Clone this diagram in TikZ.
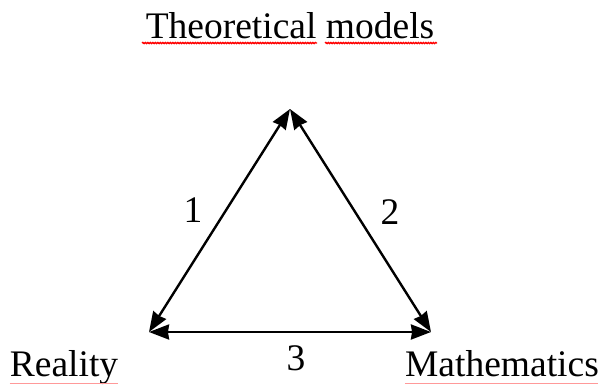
\documentclass[tikz,border=0pt]{standalone}
\usepackage{fontspec}
\setmainfont{Liberation Serif}
\usetikzlibrary{arrows.meta,decorations.pathmorphing}
\tikzset{
  lab/.style={inner sep=0pt, anchor=base, font=\fontsize{37.5}{45}\selectfont},
  side/.style={line width=2.4pt,
               arrows={Stealth[length=20pt,width=15pt,inset=1pt]-Stealth[length=20pt,width=15pt,inset=1pt]}},
  spell/.style={red, line width=1.3pt, decorate,
                decoration={snake, amplitude=0.6pt, segment length=2.5pt}}
}
\begin{document}
\begin{tikzpicture}[x=1pt,y=-1pt]
  \useasboundingbox (0,0) rectangle (602,384);
  % corners of the triangle
  \coordinate (top) at (290,109);
  \coordinate (left) at (149,332);
  \coordinate (right) at (431,332);
  \draw[side] (left) -- (top);
  \draw[side] (top) -- (right);
  \draw[side] (left) -- (right);
  % labels
  \node[lab] (theo) at (290,38) {Theoretical models};
  \node[lab] (real) at (64,376) {Reality};
  \node[lab] (math) at (502,376) {Mathematics};
  \node[lab] (one) at (193,222) {1};
  \node[lab] (two) at (390,224) {2};
  \node[lab] (three) at (296,370) {3};
  % spell check marks
  \draw[spell] (142,43) -- (317,43);
  \draw[spell] (325,43) -- (437,43);
  \draw[red!40, line width=0.8pt] (real.base west) ++(0,7) -- ++(108,0);
  \draw[red!40, line width=0.8pt] (math.base west) ++(0,7) -- ++(193,0);
\end{tikzpicture}
\end{document}
